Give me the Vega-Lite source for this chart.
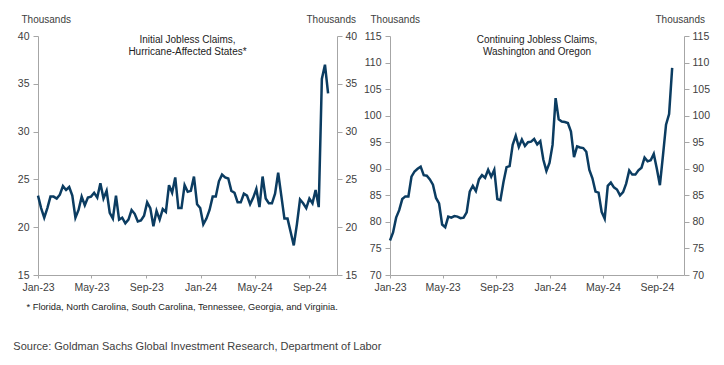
{
  "$schema": "https://vega.github.io/schema/vega-lite/v6.json",
  "padding": {"left": 13, "top": 14, "right": 10, "bottom": 6},
  "config": {
    "font": "Liberation Sans",
    "view": {"stroke": null},
    "axis": {"grid": false, "domainColor": "#a6a6a6", "tickColor": "#a6a6a6", "labelColor": "#404040", "titleColor": "#404040", "labelFontSize": 10.5, "titleFontSize": 10, "titleFontWeight": "normal", "tickSize": 5},
    "concat": {"spacing": 6}
  },
  "datasets": {
    "initial": [
      {"date": "2023-01-01", "value": 23.3}, {"date": "2023-01-08", "value": 22.0}, {"date": "2023-01-15", "value": 21.0}, {"date": "2023-01-22", "value": 22.0},
      {"date": "2023-01-29", "value": 23.2}, {"date": "2023-02-05", "value": 23.2}, {"date": "2023-02-12", "value": 23.0}, {"date": "2023-02-19", "value": 23.4},
      {"date": "2023-02-26", "value": 24.3}, {"date": "2023-03-05", "value": 23.9}, {"date": "2023-03-12", "value": 24.2}, {"date": "2023-03-19", "value": 23.3},
      {"date": "2023-03-26", "value": 21.0}, {"date": "2023-04-02", "value": 21.8}, {"date": "2023-04-09", "value": 23.2}, {"date": "2023-04-16", "value": 22.3},
      {"date": "2023-04-23", "value": 23.1}, {"date": "2023-04-30", "value": 23.2}, {"date": "2023-05-07", "value": 23.6}, {"date": "2023-05-14", "value": 23.1},
      {"date": "2023-05-21", "value": 24.6}, {"date": "2023-05-28", "value": 23.0}, {"date": "2023-06-04", "value": 23.8}, {"date": "2023-06-11", "value": 21.5},
      {"date": "2023-06-18", "value": 20.9}, {"date": "2023-06-25", "value": 23.3}, {"date": "2023-07-02", "value": 20.8}, {"date": "2023-07-09", "value": 21.0},
      {"date": "2023-07-16", "value": 20.4}, {"date": "2023-07-23", "value": 20.8}, {"date": "2023-07-30", "value": 21.8}, {"date": "2023-08-06", "value": 21.4},
      {"date": "2023-08-13", "value": 20.6}, {"date": "2023-08-20", "value": 20.7}, {"date": "2023-08-27", "value": 21.2}, {"date": "2023-09-03", "value": 22.6},
      {"date": "2023-09-10", "value": 22.0}, {"date": "2023-09-17", "value": 20.1}, {"date": "2023-09-24", "value": 21.7}, {"date": "2023-10-01", "value": 20.8},
      {"date": "2023-10-08", "value": 21.9}, {"date": "2023-10-15", "value": 21.6}, {"date": "2023-10-22", "value": 24.4}, {"date": "2023-10-29", "value": 23.6},
      {"date": "2023-11-05", "value": 25.2}, {"date": "2023-11-12", "value": 22.0}, {"date": "2023-11-19", "value": 22.0}, {"date": "2023-11-26", "value": 24.4},
      {"date": "2023-12-03", "value": 23.7}, {"date": "2023-12-10", "value": 23.8}, {"date": "2023-12-17", "value": 25.3}, {"date": "2023-12-24", "value": 22.4},
      {"date": "2023-12-31", "value": 22.0}, {"date": "2024-01-07", "value": 20.3}, {"date": "2024-01-14", "value": 20.9}, {"date": "2024-01-21", "value": 21.8},
      {"date": "2024-01-28", "value": 23.2}, {"date": "2024-02-04", "value": 23.2}, {"date": "2024-02-11", "value": 24.8}, {"date": "2024-02-18", "value": 25.5},
      {"date": "2024-02-25", "value": 25.2}, {"date": "2024-03-03", "value": 25.1}, {"date": "2024-03-10", "value": 23.8}, {"date": "2024-03-17", "value": 23.6},
      {"date": "2024-03-24", "value": 22.6}, {"date": "2024-03-31", "value": 22.6}, {"date": "2024-04-07", "value": 23.5}, {"date": "2024-04-14", "value": 23.3},
      {"date": "2024-04-21", "value": 22.4}, {"date": "2024-04-28", "value": 23.1}, {"date": "2024-05-05", "value": 24.0}, {"date": "2024-05-12", "value": 22.1},
      {"date": "2024-05-19", "value": 25.3}, {"date": "2024-05-26", "value": 23.0}, {"date": "2024-06-02", "value": 22.5}, {"date": "2024-06-09", "value": 22.5},
      {"date": "2024-06-16", "value": 23.5}, {"date": "2024-06-23", "value": 25.7}, {"date": "2024-06-30", "value": 23.3}, {"date": "2024-07-07", "value": 20.9},
      {"date": "2024-07-14", "value": 20.9}, {"date": "2024-07-21", "value": 19.5}, {"date": "2024-07-28", "value": 18.1}, {"date": "2024-08-04", "value": 20.3},
      {"date": "2024-08-11", "value": 22.9}, {"date": "2024-08-18", "value": 22.5}, {"date": "2024-08-25", "value": 22.0}, {"date": "2024-09-01", "value": 23.0},
      {"date": "2024-09-08", "value": 22.5}, {"date": "2024-09-15", "value": 23.9}, {"date": "2024-09-22", "value": 22.1}, {"date": "2024-09-29", "value": 35.5},
      {"date": "2024-10-06", "value": 37.0}, {"date": "2024-10-13", "value": 34.0}
    ],
    "continuing": [
      {"date": "2023-01-01", "value": 76.5}, {"date": "2023-01-08", "value": 78.0}, {"date": "2023-01-15", "value": 80.8}, {"date": "2023-01-22", "value": 82.2},
      {"date": "2023-01-29", "value": 84.3}, {"date": "2023-02-05", "value": 84.8}, {"date": "2023-02-12", "value": 84.8}, {"date": "2023-02-19", "value": 88.5},
      {"date": "2023-02-26", "value": 89.5}, {"date": "2023-03-05", "value": 90.0}, {"date": "2023-03-12", "value": 90.4}, {"date": "2023-03-19", "value": 88.8},
      {"date": "2023-03-26", "value": 88.7}, {"date": "2023-04-02", "value": 88.0}, {"date": "2023-04-09", "value": 87.0}, {"date": "2023-04-16", "value": 84.5},
      {"date": "2023-04-23", "value": 83.5}, {"date": "2023-04-30", "value": 79.5}, {"date": "2023-05-07", "value": 79.0}, {"date": "2023-05-14", "value": 81.0},
      {"date": "2023-05-21", "value": 80.8}, {"date": "2023-05-28", "value": 81.1}, {"date": "2023-06-04", "value": 81.0}, {"date": "2023-06-11", "value": 80.7},
      {"date": "2023-06-18", "value": 80.8}, {"date": "2023-06-25", "value": 81.8}, {"date": "2023-07-02", "value": 85.7}, {"date": "2023-07-09", "value": 86.8},
      {"date": "2023-07-16", "value": 85.8}, {"date": "2023-07-23", "value": 88.0}, {"date": "2023-07-30", "value": 88.8}, {"date": "2023-08-06", "value": 88.3},
      {"date": "2023-08-13", "value": 89.8}, {"date": "2023-08-20", "value": 88.5}, {"date": "2023-08-27", "value": 89.8}, {"date": "2023-09-03", "value": 84.3},
      {"date": "2023-09-10", "value": 84.1}, {"date": "2023-09-17", "value": 87.5}, {"date": "2023-09-24", "value": 90.3}, {"date": "2023-10-01", "value": 90.5},
      {"date": "2023-10-08", "value": 94.5}, {"date": "2023-10-15", "value": 96.2}, {"date": "2023-10-22", "value": 94.1}, {"date": "2023-10-29", "value": 95.5},
      {"date": "2023-11-05", "value": 94.3}, {"date": "2023-11-12", "value": 95.0}, {"date": "2023-11-19", "value": 95.1}, {"date": "2023-11-26", "value": 95.6},
      {"date": "2023-12-03", "value": 94.6}, {"date": "2023-12-10", "value": 95.2}, {"date": "2023-12-17", "value": 91.7}, {"date": "2023-12-24", "value": 89.6},
      {"date": "2023-12-31", "value": 91.1}, {"date": "2024-01-07", "value": 94.5}, {"date": "2024-01-14", "value": 103.3}, {"date": "2024-01-21", "value": 99.3},
      {"date": "2024-01-28", "value": 98.9}, {"date": "2024-02-04", "value": 98.8}, {"date": "2024-02-11", "value": 98.6}, {"date": "2024-02-18", "value": 97.0},
      {"date": "2024-02-25", "value": 92.2}, {"date": "2024-03-03", "value": 94.2}, {"date": "2024-03-10", "value": 94.0}, {"date": "2024-03-17", "value": 93.9},
      {"date": "2024-03-24", "value": 93.2}, {"date": "2024-03-31", "value": 89.8}, {"date": "2024-04-07", "value": 88.2}, {"date": "2024-04-14", "value": 85.7},
      {"date": "2024-04-21", "value": 85.5}, {"date": "2024-04-28", "value": 81.9}, {"date": "2024-05-05", "value": 80.6}, {"date": "2024-05-12", "value": 86.8},
      {"date": "2024-05-19", "value": 87.4}, {"date": "2024-05-26", "value": 86.5}, {"date": "2024-06-02", "value": 86.1}, {"date": "2024-06-09", "value": 85.0},
      {"date": "2024-06-16", "value": 85.6}, {"date": "2024-06-23", "value": 87.2}, {"date": "2024-06-30", "value": 89.7}, {"date": "2024-07-07", "value": 88.9},
      {"date": "2024-07-14", "value": 88.9}, {"date": "2024-07-21", "value": 89.7}, {"date": "2024-07-28", "value": 90.2}, {"date": "2024-08-04", "value": 92.1},
      {"date": "2024-08-11", "value": 91.4}, {"date": "2024-08-18", "value": 91.6}, {"date": "2024-08-25", "value": 92.8}, {"date": "2024-09-01", "value": 90.0},
      {"date": "2024-09-08", "value": 86.9}, {"date": "2024-09-15", "value": 92.5}, {"date": "2024-09-22", "value": 98.3}, {"date": "2024-09-29", "value": 100.3},
      {"date": "2024-10-06", "value": 109.0}
    ]
  },
  "title": {"text": "Source: Goldman Sachs Global Investment Research, Department of Labor", "orient": "bottom", "anchor": "start", "fontSize": 11, "fontWeight": "normal", "color": "#404040", "offset": 30, "dx": -4},
  "hconcat": [
    {
      "width": 299,
      "height": 239,
      "title": {"text": ["Initial Jobless Claims,", "Hurricane-Affected States*"], "anchor": "middle", "fontSize": 10, "fontWeight": "normal", "color": "#222222", "baseline": "top", "lineHeight": 12, "offset": -43},
      "data": {"name": "initial"},
      "layer": [
        {
          "mark": {"type": "line", "color": "#0b3c61", "strokeWidth": 2.5},
          "encoding": {
            "x": {"field": "date", "type": "temporal", "scale": {"type": "utc", "domain": [{"year": 2023, "month": 1, "date": 1, "utc": true}, {"year": 2024, "month": 11, "date": 2, "utc": true}]},
                  "axis": {"values": [{"year": 2023, "month": 1, "date": 1, "utc": true}, {"year": 2023, "month": 5, "date": 1, "utc": true}, {"year": 2023, "month": 9, "date": 1, "utc": true}, {"year": 2024, "month": 1, "date": 1, "utc": true}, {"year": 2024, "month": 5, "date": 1, "utc": true}, {"year": 2024, "month": 9, "date": 1, "utc": true}], "format": "%b-%y", "tickSize": 3, "labelPadding": 4, "labelFlush": false, "title": "* Florida, North Carolina, South Carolina, Tennessee, Georgia, and Virginia.", "titleFontSize": 9.3, "titleAnchor": "start", "titleAlign": "left", "titleX": -12, "titleY": 27, "titleColor": "#222222"}},
            "y": {"field": "value", "type": "quantitative", "scale": {"domain": [15, 40], "nice": false, "zero": false},
                  "axis": {"orient": "left", "values": [15, 20, 25, 30, 35, 40], "labelPadding": 4, "title": "Thousands", "titleAngle": 0, "titleAlign": "left", "titleBaseline": "middle", "titleX": -17, "titleY": -17}}
          }
        },
        {
          "mark": {"type": "line", "strokeOpacity": 0},
          "encoding": {
            "x": {"field": "date", "type": "temporal"},
            "y": {"field": "value", "type": "quantitative",
                  "axis": {"orient": "right", "values": [15, 20, 25, 30, 35, 40], "labelPadding": 3, "title": "Thousands", "titleAngle": 0, "titleAlign": "left", "titleBaseline": "middle", "titleX": -31, "titleY": -17}}
          }
        }
      ],
      "resolve": {"axis": {"y": "independent"}}
    },
    {
      "width": 294,
      "height": 239,
      "title": {"text": ["Continuing Jobless Claims,", "Washington and Oregon"], "anchor": "middle", "fontSize": 10, "fontWeight": "normal", "color": "#222222", "baseline": "top", "lineHeight": 12, "offset": -43},
      "data": {"name": "continuing"},
      "layer": [
        {
          "mark": {"type": "line", "color": "#0b3c61", "strokeWidth": 2.5},
          "encoding": {
            "x": {"field": "date", "type": "temporal", "scale": {"type": "utc", "domain": [{"year": 2023, "month": 1, "date": 1, "utc": true}, {"year": 2024, "month": 11, "date": 2, "utc": true}]},
                  "axis": {"values": [{"year": 2023, "month": 1, "date": 1, "utc": true}, {"year": 2023, "month": 5, "date": 1, "utc": true}, {"year": 2023, "month": 9, "date": 1, "utc": true}, {"year": 2024, "month": 1, "date": 1, "utc": true}, {"year": 2024, "month": 5, "date": 1, "utc": true}, {"year": 2024, "month": 9, "date": 1, "utc": true}], "format": "%b-%y", "tickSize": 3, "labelPadding": 4, "labelFlush": false, "title": null}},
            "y": {"field": "value", "type": "quantitative", "scale": {"domain": [70, 115], "nice": false, "zero": false},
                  "axis": {"orient": "left", "values": [70, 75, 80, 85, 90, 95, 100, 105, 110, 115], "labelPadding": 4, "title": "Thousands", "titleAngle": 0, "titleAlign": "left", "titleBaseline": "middle", "titleX": -20, "titleY": -17}}
          }
        },
        {
          "mark": {"type": "line", "strokeOpacity": 0},
          "encoding": {
            "x": {"field": "date", "type": "temporal"},
            "y": {"field": "value", "type": "quantitative",
                  "axis": {"orient": "right", "values": [70, 75, 80, 85, 90, 95, 100, 105, 110, 115], "labelPadding": 3, "title": "Thousands", "titleAngle": 0, "titleAlign": "left", "titleBaseline": "middle", "titleX": -29, "titleY": -17}}
          }
        }
      ],
      "resolve": {"axis": {"y": "independent"}}
    }
  ]
}
